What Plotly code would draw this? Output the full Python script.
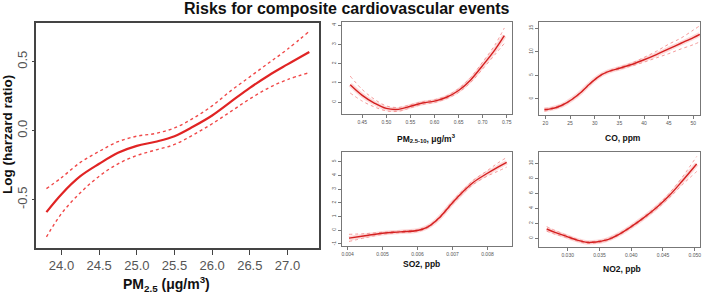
import plotly.graph_objects as go

W, H = 709, 295

# ---- data: main panel (PM2.5) ----
pm25_x = [23.8, 24.0, 24.25, 24.5, 24.75, 25.0, 25.25, 25.5, 25.75, 26.0, 26.25, 26.5, 26.75, 27.0, 27.29]
pm25_mid = [-0.59, -0.46, -0.33, -0.24, -0.16, -0.11, -0.08, -0.04, 0.03, 0.11, 0.21, 0.31, 0.40, 0.48, 0.57]
pm25_up = [-0.42, -0.34, -0.23, -0.15, -0.08, -0.04, -0.02, 0.02, 0.09, 0.18, 0.29, 0.39, 0.49, 0.59, 0.72]
pm25_lo = [-0.77, -0.60, -0.45, -0.33, -0.24, -0.18, -0.14, -0.10, -0.03, 0.05, 0.14, 0.23, 0.31, 0.37, 0.42]

# ---- PM2.5-10 ----
pmc_x = [0.425, 0.45, 0.475, 0.50, 0.525, 0.55, 0.575, 0.60, 0.625, 0.65, 0.675, 0.70, 0.725, 0.745]
pmc_mid = [0.9, 0.35, -0.05, -0.33, -0.38, -0.22, -0.05, 0.05, 0.25, 0.6, 1.15, 1.9, 2.7, 3.45]
pmc_up = [1.35, 0.65, 0.15, -0.2, -0.28, -0.14, 0.02, 0.12, 0.32, 0.7, 1.28, 2.08, 2.95, 3.85]
pmc_lo = [0.47, 0.05, -0.25, -0.46, -0.48, -0.30, -0.12, -0.02, 0.18, 0.5, 1.02, 1.72, 2.45, 3.05]

# ---- CO ----
co_x = [19.8, 21, 22.5, 24, 25.5, 27, 28.5, 30, 31.5, 33, 35, 37.5, 40, 42.5, 45, 47.5, 50, 51.3]
co_mid = [-2.3, -2.1, -1.7, -1.0, 0.0, 1.2, 2.7, 4.1, 5.2, 5.9, 6.5, 7.3, 8.3, 9.4, 10.6, 11.8, 13.0, 13.7]
co_up = [-2.0, -1.9, -1.5, -0.85, 0.15, 1.35, 2.85, 4.25, 5.35, 6.05, 6.7, 7.6, 8.8, 10.1, 11.6, 12.9, 14.6, 15.5]
co_lo = [-2.6, -2.3, -1.9, -1.15, -0.15, 1.05, 2.55, 3.95, 5.05, 5.75, 6.3, 7.0, 7.8, 8.7, 9.6, 10.6, 11.5, 12.1]

# ---- SO2 ----
so2_x = [0.00404, 0.0045, 0.005, 0.0055, 0.006, 0.0063, 0.0066, 0.007, 0.0073, 0.0076, 0.008, 0.0083, 0.00855]
so2_mid = [-0.58, -0.4, -0.22, -0.12, -0.02, 0.25, 0.85, 2.0, 2.8, 3.5, 4.15, 4.6, 4.95]
so2_up = [-0.3, -0.25, -0.15, -0.06, 0.05, 0.32, 0.92, 2.1, 2.92, 3.65, 4.35, 4.9, 5.3]
so2_lo = [-0.82, -0.55, -0.3, -0.18, -0.09, 0.18, 0.78, 1.9, 2.68, 3.35, 3.95, 4.3, 4.6]

# ---- NO2 ----
no2_x = [0.0267, 0.028, 0.030, 0.0315, 0.033, 0.0345, 0.036, 0.038, 0.040, 0.042, 0.044, 0.046, 0.048, 0.0503]
no2_mid = [1.24, 0.8, 0.2, -0.25, -0.55, -0.5, -0.25, 0.5, 1.55, 2.75, 4.1, 5.7, 7.6, 9.9]
no2_up = [1.55, 1.05, 0.35, -0.13, -0.43, -0.38, -0.12, 0.62, 1.68, 2.9, 4.3, 6.0, 8.1, 10.9]
no2_lo = [0.95, 0.55, 0.05, -0.37, -0.67, -0.62, -0.38, 0.38, 1.42, 2.6, 3.9, 5.4, 7.1, 8.9]

# ---- ticks ----
main_xt = [24.0, 24.5, 25.0, 25.5, 26.0, 26.5, 27.0]
main_yt = [-0.5, 0.0, 0.5]
pmc_xt = [0.45, 0.50, 0.55, 0.60, 0.65, 0.70, 0.75]
pmc_yt = [0, 1, 2, 3, 4]
co_xt = [20, 25, 30, 35, 40, 45, 50]
co_yt = [0, 5, 10, 15]
so2_xt = [0.004, 0.005, 0.006, 0.007, 0.008]
so2_yt = [-1, 0, 1, 2, 3, 4, 5]
no2_xt = [0.030, 0.035, 0.040, 0.045, 0.050]
no2_yt = [0, 2, 4, 6, 8, 10]

title = "Risks for composite cardiovascular events"
main_ytitle = "Log (harzard ratio)"
main_xtitle = "PM<sub>2.5</sub> (μg/m<sup>3</sup>)"
small_titles = ["PM<sub>2.5-10</sub>, μg/m<sup>3</sup>", "CO, ppm", "SO2, ppb", "NO2, ppb"]

FONT = "Liberation Sans, Arial, sans-serif"
fig = go.Figure()

def px_x(a, b):
    return [a / W, b / W]

def px_y(top, bot):
    return [1 - bot / H, 1 - top / H]

# main panel
fig.add_trace(go.Scatter(x=pm25_x, y=pm25_up, mode="lines", line=dict(color="#f04848", width=1.4, dash="dot", shape="spline"), xaxis="x", yaxis="y"))
fig.add_trace(go.Scatter(x=pm25_x, y=pm25_lo, mode="lines", line=dict(color="#f04848", width=1.4, dash="dot", shape="spline"), xaxis="x", yaxis="y"))
fig.add_trace(go.Scatter(x=pm25_x, y=pm25_mid, mode="lines", line=dict(color="#e02424", width=2.2, shape="spline"), xaxis="x", yaxis="y"))

panels = [
    (pmc_x, pmc_mid, pmc_up, pmc_lo, "2"),
    (co_x, co_mid, co_up, co_lo, "3"),
    (so2_x, so2_mid, so2_up, so2_lo, "4"),
    (no2_x, no2_mid, no2_up, no2_lo, "5"),
]
for xs, mid, up, lo, k in panels:
    ax = dict(xaxis="x" + k, yaxis="y" + k)
    fig.add_trace(go.Scatter(x=xs, y=mid, mode="lines", line=dict(color="rgba(250,160,160,0.4)", width=4.5, shape="spline"), **ax))
    fig.add_trace(go.Scatter(x=xs, y=up, mode="lines", line=dict(color="#f59a9a", width=1, dash="dot", shape="spline"), **ax))
    fig.add_trace(go.Scatter(x=xs, y=lo, mode="lines", line=dict(color="#f59a9a", width=1, dash="dot", shape="spline"), **ax))
    fig.add_trace(go.Scatter(x=xs, y=mid, mode="lines", line=dict(color="#d42020", width=1.4, shape="spline"), **ax))

def axis(domain, rng, tv, tt, size, anchor, lc, lw, ticklen, angle=0):
    return dict(domain=domain, range=rng, tickvals=tv, ticktext=tt, showgrid=False, zeroline=False,
                showline=True, mirror=True, linecolor=lc, linewidth=lw, ticks="outside",
                ticklen=ticklen, tickcolor=lc, tickwidth=1, anchor=anchor,
                tickfont=dict(size=size, color="#555555", family=FONT), tickangle=angle)

layout = dict(
    width=W, height=H, margin=dict(l=0, r=0, t=0, b=0),
    paper_bgcolor="white", plot_bgcolor="white", showlegend=False,
    font=dict(family=FONT),
)
layout["xaxis"] = axis(px_x(35, 319), [23.66, 27.42], main_xt, [f"{v:.1f}" for v in main_xt], 13, "y", "#444444", 1.5, 5)
layout["yaxis"] = axis(px_y(23, 248), [-0.85, 0.78], main_yt, [f"{v:.1f}" for v in main_yt], 13, "x", "#444444", 1.5, 2, angle=-90)

layout["xaxis2"] = axis(px_x(342, 512), [0.408, 0.760], pmc_xt, [f"{v:.2f}" for v in pmc_xt], 5, "y2", "#777777", 1, 3)
layout["yaxis2"] = axis(px_y(22, 114), [-0.62, 4.16], pmc_yt, [str(v) for v in pmc_yt], 5, "x2", "#777777", 1, 3, angle=-90)
layout["xaxis3"] = axis(px_x(540, 701), [18.8, 51.35], co_xt, [str(v) for v in co_xt], 5, "y3", "#777777", 1, 3)
layout["yaxis3"] = axis(px_y(22, 115), [-3.4, 16.3], co_yt, [str(v) for v in co_yt], 5, "x3", "#777777", 1, 3, angle=-90)
layout["xaxis4"] = axis(px_x(342, 512), [0.00384, 0.00869], so2_xt, [f"{v:.3f}" for v in so2_xt], 5, "y4", "#777777", 1, 3)
layout["yaxis4"] = axis(px_y(152, 246), [-1.15, 5.7], so2_yt, [str(v) for v in so2_yt], 5, "x4", "#777777", 1, 3, angle=-90)
layout["xaxis5"] = axis(px_x(540, 701), [0.02556, 0.05083], no2_xt, [f"{v:.3f}" for v in no2_xt], 5, "y5", "#777777", 1, 3)
layout["yaxis5"] = axis(px_y(152, 247), [-1.16, 11.5], no2_yt, [str(v) for v in no2_yt], 5, "x5", "#777777", 1, 3, angle=-90)

def ann(text, x, y, size, angle=0):
    return dict(text=text, x=x / W, y=1 - y / H, xref="paper", yref="paper", showarrow=False,
                xanchor="center", yanchor="middle", textangle=angle,
                font=dict(size=size, color="#111111", family=FONT))

layout["annotations"] = [
    ann("<b>" + title + "</b>", 347, 8, 16),
    ann("<b>" + main_ytitle + "</b>", 7, 134, 13.5, angle=-90),
    ann("<b>" + main_xtitle + "</b>", 166, 284, 14),
    ann("<b>" + small_titles[0] + "</b>", 427, 138, 8.5),
    ann("<b>" + small_titles[1] + "</b>", 624, 138, 8.5),
    ann("<b>" + small_titles[2] + "</b>", 422, 264, 8.5),
    ann("<b>" + small_titles[3] + "</b>", 623, 269, 8.5),
]
fig.update_layout(**layout)
fig.write_html("out.html", config={"displayModeBar": False},
               post_script="document.body.style.margin='0';document.body.style.overflow='hidden';")
